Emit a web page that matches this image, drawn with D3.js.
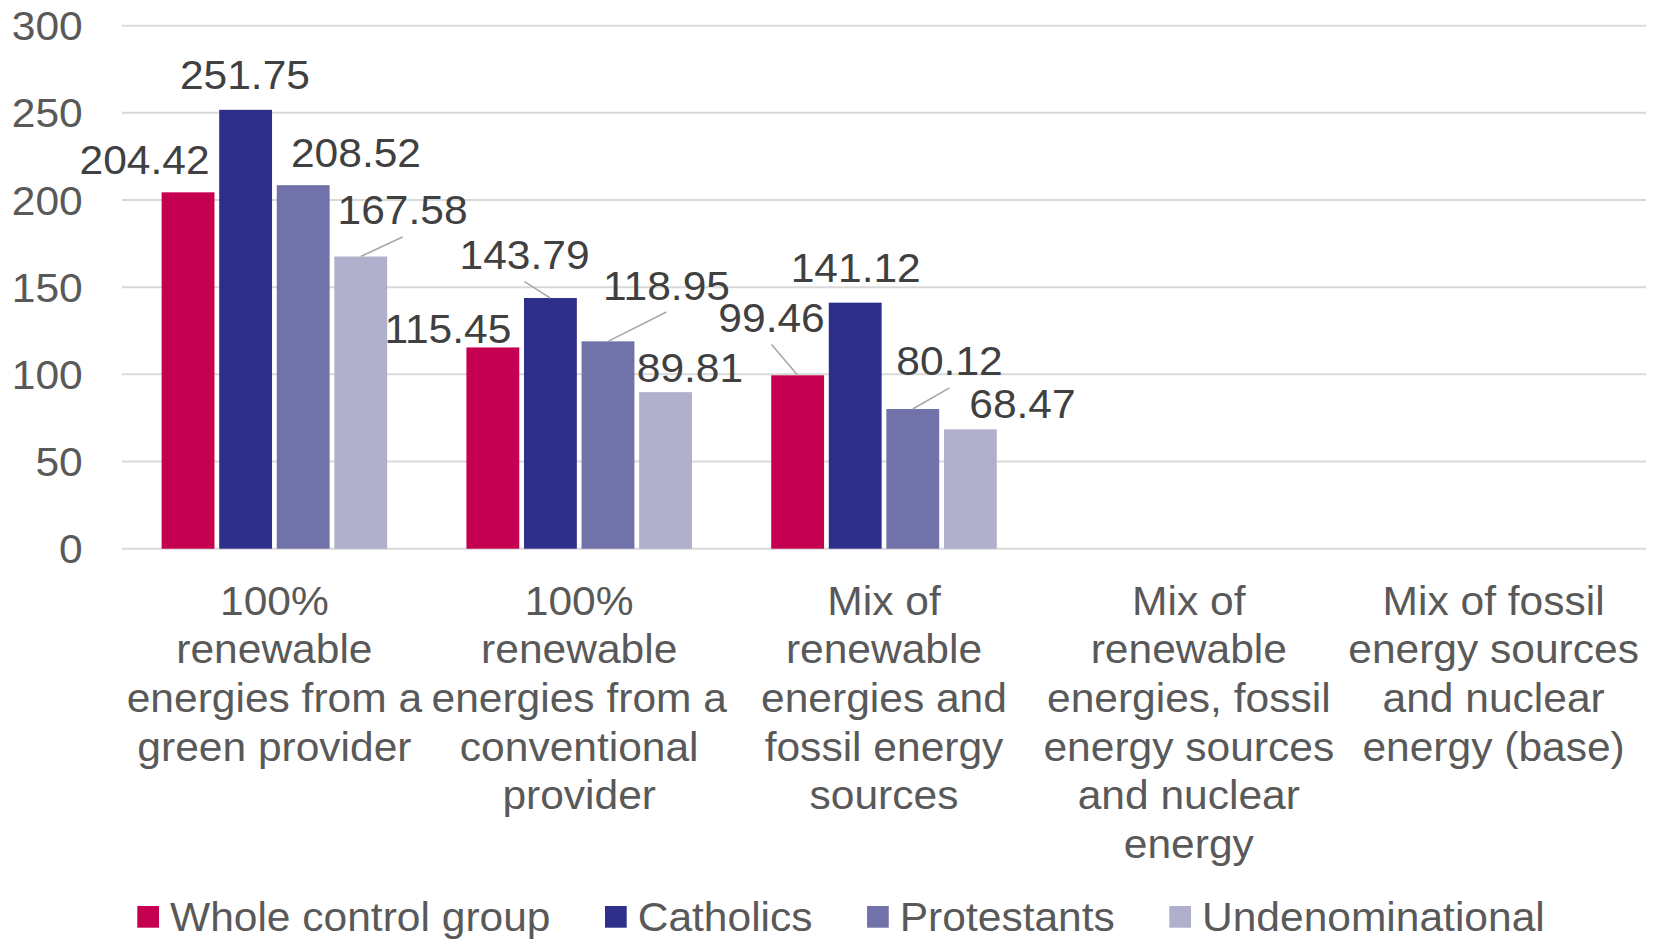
<!DOCTYPE html>
<html>
<head>
<meta charset="utf-8">
<script src="https://cdn.jsdelivr.net/npm/d3@7"></script>
<style>
  html, body { margin: 0; padding: 0; background: #fff; }
  svg { display: block; }
  text { font-family: "Liberation Sans", Arial, sans-serif; }
</style>
</head>
<body>
<svg id="chart" width="1656" height="939"></svg>
<script>
// ---------- data ----------
const categories = [
  "100% renewable energies from a green provider",
  "100% renewable energies from a conventional provider",
  "Mix of renewable energies and fossil energy sources",
  "Mix of renewable energies, fossil energy sources and nuclear energy",
  "Mix of fossil energy sources and nuclear energy (base)"
];
const categoryLines = [
  ["100%", "renewable", "energies from a", "green provider"],
  ["100%", "renewable", "energies from a", "conventional", "provider"],
  ["Mix of", "renewable", "energies and", "fossil energy", "sources"],
  ["Mix of", "renewable", "energies, fossil", "energy sources", "and nuclear", "energy"],
  ["Mix of fossil", "energy sources", "and nuclear", "energy (base)"]
];
const seriesNames = ["Whole control group", "Catholics", "Protestants", "Undenominational"];
const wholeControlGroup = [204.42, 115.45, 99.46, null, null];
const catholics         = [251.75, 143.79, 141.12, null, null];
const protestants       = [208.52, 118.95, 80.12, null, null];
const undenominational  = [167.58, 89.81, 68.47, null, null];
const yTicks = [0, 50, 100, 150, 200, 250, 300];

// ---------- styling / layout ----------
const colors = ["#C50050", "#2E2E8B", "#7272AA", "#B0B0CC"];
// label placement (dx, dy of label centre from bar-top centre, leader line flag) per category, per series
const labelPlacement = [
  [[-43.5, -32.8, 0], [-0.7, -35.1, 0], [52.8, -32.7, 0], [41.8, -46.6, 1]],
  [[-45, -18.9, 0], [-25.9, -43.3, 1], [58.5, -56.3, 1], [24.4, -24.3, 0]],
  [[-26.1, -57.8, 1], [0.5, -35, 0], [36.7, -48.2, 1], [52.1, -26.3, 0]]
];
const FS = 40.5, SX = 1.05, CAPH = 14.5;

const series = [wholeControlGroup, catholics, protestants, undenominational];
const svg = d3.select("#chart");
const plotLeft = 122, plotRight = 1646, plotTop = 25.7, plotBottom = 548.7;

const y = d3.scaleLinear().domain([0, 300]).range([plotBottom, plotTop]);
const x0 = d3.scaleBand().domain(d3.range(categories.length)).range([plotLeft, plotRight])
  .paddingInner(0.26).paddingOuter(0.13);
const x1 = d3.scaleBand().domain(d3.range(series.length)).range([0, x0.bandwidth()])
  .paddingInner(0.082).paddingOuter(0);

function txt(g, x, yy, s, anchor, fill) {
  return g.append("text")
    .attr("transform", `translate(${x},${yy}) scale(${SX},1)`)
    .attr("text-anchor", anchor)
    .attr("font-size", FS)
    .attr("fill", fill)
    .text(s);
}

// gridlines
const grid = svg.append("g");
yTicks.forEach(t => {
  grid.append("line")
    .attr("x1", plotLeft).attr("x2", plotRight)
    .attr("y1", y(t)).attr("y2", y(t))
    .attr("stroke", "#D9D9D9").attr("stroke-width", 2);
});

// y axis labels
const yax = svg.append("g");
yTicks.forEach(t => txt(yax, 82.7, y(t) + CAPH, String(t), "end", "#595959"));

// bars
const barsG = svg.append("g");
categories.forEach((c, ci) => {
  series.forEach((s, si) => {
    const v = s[ci];
    if (v == null) return;
    barsG.append("rect")
      .attr("x", x0(ci) + x1(si))
      .attr("y", y(v))
      .attr("width", x1.bandwidth())
      .attr("height", y(0) - y(v))
      .attr("fill", colors[si]);
  });
});

// data labels + leader lines
const labG = svg.append("g");
categories.forEach((c, ci) => {
  series.forEach((s, si) => {
    const v = s[ci];
    if (v == null) return;
    const bx = x0(ci) + x1(si) + x1.bandwidth() / 2;
    const by = y(v);
    const [dx, dy, lead] = labelPlacement[ci][si];
    const lx = bx + dx, ly = by + dy;
    if (lead) {
      labG.append("line")
        .attr("x1", lx).attr("y1", ly + 27)
        .attr("x2", bx).attr("y2", by)
        .attr("stroke", "#A6A6A6").attr("stroke-width", 1.5);
    }
    txt(labG, lx, ly + CAPH, v.toFixed(2), "middle", "#404040");
  });
});

// category labels
const catG = svg.append("g");
categoryLines.forEach((lines, ci) => {
  const cx = x0(ci) + x0.bandwidth() / 2;
  lines.forEach((ln, li) => txt(catG, cx, 614.5 + li * 48.7, ln, "middle", "#595959"));
});

// legend
const legG = svg.append("g");
let legX = 137.3;
seriesNames.forEach((n, i) => {
  legG.append("rect").attr("x", legX).attr("y", 906).attr("width", 21.7).attr("height", 21.7)
    .attr("fill", colors[i]);
  const t = txt(legG, legX + 32.7, 930.7, n, "start", "#595959");
  const w = t.node().getComputedTextLength() * SX;
  legX = legX + 32.7 + w + 54.5;
});
</script>
</body>
</html>
